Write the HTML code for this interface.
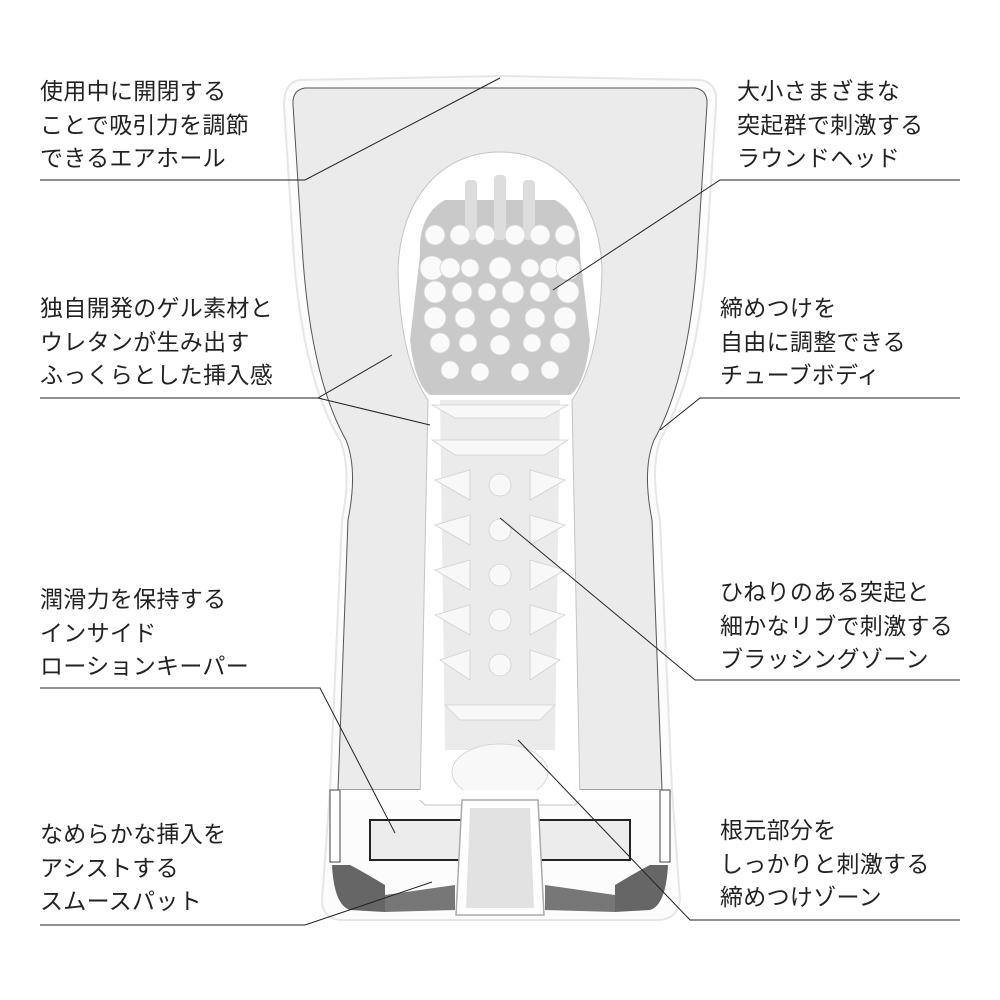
<!DOCTYPE html>
<html><head><meta charset="utf-8"><style>
body{margin:0;background:#fff;}
.w{position:relative;width:1000px;height:1000px;overflow:hidden;font-family:"Liberation Sans","Noto Sans CJK JP",sans-serif;}
.t{position:absolute;font-size:23px;line-height:33.5px;color:#222;letter-spacing:0.3px;white-space:nowrap;}
svg{position:absolute;left:0;top:0;}
</style></head><body><div class="w">
<svg width="1000" height="1000" viewBox="0 0 1000 1000">
<!-- outer shell -->
<path d="M300,80 L500,76 L700,80 Q718,82 716,105 L706,260 Q696,380 660,440 Q650,470 660,520 L672,790 L680,900 Q678,918 660,920 L340,920 Q322,918 322,900 L330,790 L342,520 Q352,470 340,440 Q304,380 294,260 L284,105 Q284,82 300,80 Z" fill="#fcfcfc" stroke="#e6e6e6" stroke-width="2"/>
<!-- gray body -->
<path d="M305,88 L695,88 Q708,90 707,105 L697,260 Q688,380 654,440 Q642,470 652,520 L662,790 L338,790 L348,520 Q358,470 346,440 Q312,380 303,260 L293,105 Q292,90 305,88 Z" fill="#ebebeb" stroke="#555" stroke-width="1"/>
<!-- cavity -->
<path d="M500,152 C440,152 400,200 398,270 Q400,360 428,400 L420,800 L425,805 L575,805 L580,800 L572,400 Q600,360 602,270 C600,200 560,152 500,152 Z" fill="#fff" stroke="#c4c4c4" stroke-width="1"/>
<!-- head sleeve -->
<path d="M420,255 Q418,215 445,200 L555,200 Q582,215 580,255 L590,340 Q585,385 570,395 L430,395 Q415,385 410,340 Z" fill="#c9c9c9"/>
<g>
<rect x="465" y="180" width="12" height="60" rx="4" fill="#ddd"/><rect x="494" y="175" width="12" height="65" rx="4" fill="#ddd"/><rect x="523" y="180" width="12" height="60" rx="4" fill="#ddd"/>
</g>
<g fill="#fafafa" stroke="#d4d4d4" stroke-width="0.8">
<circle cx="435" cy="235" r="10"/><circle cx="460" cy="235" r="10"/><circle cx="485" cy="235" r="10"/><circle cx="515" cy="235" r="10"/><circle cx="540" cy="235" r="10"/><circle cx="565" cy="235" r="10"/>
<circle cx="432" cy="268" r="12"/><circle cx="450" cy="268" r="10"/><circle cx="470" cy="268" r="9"/><circle cx="500" cy="268" r="11"/><circle cx="530" cy="268" r="9"/><circle cx="550" cy="268" r="10"/><circle cx="568" cy="268" r="12"/>
<circle cx="435" cy="292" r="11"/><circle cx="462" cy="292" r="10"/><circle cx="487" cy="292" r="9"/><circle cx="513" cy="292" r="11"/><circle cx="540" cy="292" r="10"/><circle cx="568" cy="292" r="11"/>
<circle cx="435" cy="318" r="11"/><circle cx="465" cy="318" r="10"/><circle cx="500" cy="318" r="10"/><circle cx="535" cy="318" r="10"/><circle cx="565" cy="318" r="11"/>
<circle cx="440" cy="343" r="10"/><circle cx="468" cy="343" r="9"/><circle cx="500" cy="345" r="10"/><circle cx="532" cy="343" r="9"/><circle cx="560" cy="343" r="10"/>
<circle cx="450" cy="370" r="9"/><circle cx="480" cy="372" r="9"/><circle cx="520" cy="372" r="9"/><circle cx="550" cy="370" r="9"/>
</g>
<!-- stem -->
<path d="M440,400 L560,400 L555,750 L445,750 Z" fill="#ebebeb"/>
<g fill="#f8f8f8" stroke="#d0d0d0" stroke-width="0.8">
<path d="M432,405 L568,405 L545,418 L455,418 Z"/><path d="M432,440 L568,440 L545,455 L455,455 Z"/>
<path d="M435,480 L470,470 L470,500 Z"/><path d="M565,480 L530,470 L530,500 Z"/>
<path d="M435,525 L470,515 L470,545 Z"/><path d="M565,525 L530,515 L530,545 Z"/>
<path d="M435,570 L470,560 L470,590 Z"/><path d="M565,570 L530,560 L530,590 Z"/>
<path d="M435,615 L470,605 L470,635 Z"/><path d="M565,615 L530,605 L530,635 Z"/>
<path d="M440,660 L470,650 L470,680 Z"/><path d="M560,660 L530,650 L530,680 Z"/>
<path d="M445,705 L555,705 L540,720 L460,720 Z"/>
<ellipse cx="500" cy="772" rx="48" ry="28"/>
<circle cx="500" cy="485" r="11"/><circle cx="500" cy="530" r="11"/><circle cx="500" cy="575" r="11"/><circle cx="500" cy="620" r="11"/><circle cx="500" cy="665" r="11"/>
</g>
<!-- base -->
<rect x="338" y="790" width="324" height="10" fill="#fff"/>
<rect x="370" y="820" width="260" height="40" fill="#ececec" stroke="#222" stroke-width="2"/>
<path d="M332,865 Q334,905 350,910 L385,912 L385,885 Q360,870 350,865 Z" fill="#666"/>
<path d="M668,865 Q666,905 650,910 L615,912 L615,885 Q640,870 650,865 Z" fill="#666"/>
<path d="M385,895 L455,885 L455,910 L385,912 Z M615,895 L545,885 L545,910 L615,912 Z" fill="#777"/>
<path d="M462,800 L538,800 L544,915 L456,915 Z" fill="#fff" stroke="#aaa" stroke-width="1.5"/>
<path d="M470,808 L530,808 L534,908 L466,908 Z" fill="#e2e2e2"/>
<path d="M330,790 L340,790 L340,862 L330,862 Z M660,790 L670,790 L670,862 L660,862 Z" fill="#fff" stroke="#444" stroke-width="1"/>
<!-- leader lines -->
<g stroke="#222" stroke-width="1" fill="none">
<polyline points="40,180 305,180 500,78"/>
<polyline points="960,180 720,180 553,290"/>
<polyline points="40,398 318,398 392,355"/><line x1="318" y1="398" x2="430" y2="425"/>
<polyline points="960,398 700,398 660,430"/>
<polyline points="40,688 320,688 395,833"/>
<polyline points="960,680 695,680 500,518"/>
<polyline points="40,925 305,925 432,882"/>
<polyline points="960,920 690,920 518,740"/>
</g>
</svg>
<div class="t" style="left:40px;top:75px">使用中に開閉する<br>ことで吸引力を調節<br>できるエアホール</div>
<div class="t" style="left:737px;top:75px">大小さまざまな<br>突起群で刺激する<br>ラウンドヘッド</div>
<div class="t" style="left:40px;top:292px">独自開発のゲル素材と<br>ウレタンが生み出す<br>ふっくらとした挿入感</div>
<div class="t" style="left:720px;top:292px">締めつけを<br>自由に調整できる<br>チューブボディ</div>
<div class="t" style="left:40px;top:583px">潤滑力を保持する<br>インサイド<br>ローションキーパー</div>
<div class="t" style="left:720px;top:576px">ひねりのある突起と<br>細かなリブで刺激する<br>ブラッシングゾーン</div>
<div class="t" style="left:40px;top:818px">なめらかな挿入を<br>アシストする<br>スムースパット</div>
<div class="t" style="left:720px;top:814px">根元部分を<br>しっかりと刺激する<br>締めつけゾーン</div>
</div></body></html>
